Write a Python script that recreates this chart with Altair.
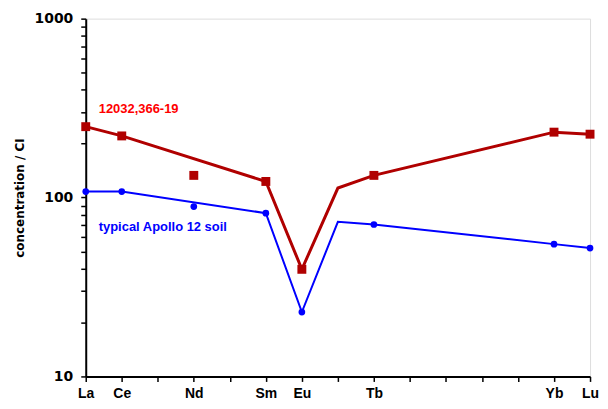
import altair as alt
import pandas as pd

# Atomic numbers of rare earth elements
elements = ["La", "Ce", "Pr", "Nd", "Pm", "Sm", "Eu", "Gd", "Tb", "Dy", "Ho", "Er", "Tm", "Yb", "Lu"]
atomic = list(range(57, 72))
labelled = ["La", "Ce", "Nd", "Sm", "Eu", "Tb", "Yb", "Lu"]

# Line vertices (connected through Gd, skipping Nd)
line_elems = ["La", "Ce", "Sm", "Eu", "Gd", "Tb", "Yb", "Lu"]
red_line = [249, 221, 123, 39.7, 113, 133, 232, 226]
blue_line = [108, 108, 81.8, 22.9, 73.2, 70.7, 54.9, 52.2]

# Measured markers
mark_elems = ["La", "Ce", "Nd", "Sm", "Eu", "Tb", "Yb", "Lu"]
red_marks = [249, 221, 133, 123, 39.7, 133, 232, 226]
blue_marks = [108, 108, 89, 81.8, 22.9, 70.7, 54.9, 52.2]

Z = dict(zip(elements, atomic))

line_df = pd.concat([
    pd.DataFrame({"z": [Z[e] for e in line_elems], "v": red_line, "s": "red", "o": range(len(line_elems))}),
    pd.DataFrame({"z": [Z[e] for e in line_elems], "v": blue_line, "s": "blue", "o": range(len(line_elems))}),
])
red_df = pd.DataFrame({"z": [Z[e] for e in mark_elems], "v": red_marks})
blue_df = pd.DataFrame({"z": [Z[e] for e in mark_elems], "v": blue_marks})

label_map = "{" + ",".join(f"'{Z[e]}':'{e}'" for e in labelled) + "}"
label_expr = f"({label_map})[''+datum.value] || ''"

xscale = alt.Scale(domain=[57, 71], nice=False, zero=False)
yscale = alt.Scale(type="log", domain=[10, 1000], nice=False)
yticks = [10, 20, 30, 40, 50, 60, 70, 80, 90, 100, 200, 300, 400, 500, 600, 700, 800, 900, 1000]

xaxis = alt.Axis(values=atomic, labelExpr=label_expr, grid=False, title=None,
                 tickSize=5, tickColor="black", domainColor="black", domainWidth=2, tickWidth=1.5,
                 labelFont="Liberation Sans", labelFontWeight="bold", labelFontSize=14,
                 labelColor="black", labelPadding=5, labelFlush=False)
yaxis = alt.Axis(values=yticks,
                 labelExpr="(datum.value==10||datum.value==100||datum.value==1000) ? datum.value : ''",
                 grid=False, title="concentration / CI", tickSize=5, tickColor="black",
                 domainColor="black", domainWidth=2, tickWidth=1.5,
                 labelFont="DejaVu Sans", labelFontWeight="bold", labelFontSize=14, labelColor="black",
                 labelPadding=8, labelFlush=False,
                 titleFont="DejaVu Sans", titleFontWeight="bold", titleFontSize=12, titleColor="black",
                 titleX=-66, titleY=179.5, titleAngle=-90, titleBaseline="middle", titleAlign="center")

x = alt.X("z:Q", scale=xscale, axis=xaxis)
y = alt.Y("v:Q", scale=yscale, axis=yaxis)

lines = alt.Chart(line_df).mark_line(clip=True).encode(
    x=x, y=y, detail="s:N", order="o:Q",
    color=alt.Color("s:N", scale=alt.Scale(domain=["red", "blue"], range=["#b00000", "#0000ff"]), legend=None),
    strokeWidth=alt.StrokeWidth("s:N", scale=alt.Scale(domain=["red", "blue"], range=[3, 2]), legend=None),
)
red_pts = alt.Chart(red_df).mark_square(size=80, color="#b00000", opacity=1).encode(x=x, y=y)
blue_pts = alt.Chart(blue_df).mark_circle(size=45, color="#0000ff", opacity=1).encode(x=x, y=y)

red_txt = alt.Chart(pd.DataFrame({"z": [57.36], "v": [313], "t": ["12032,366-19"]})).mark_text(
    align="left", baseline="middle", font="Liberation Sans", fontWeight="bold", fontSize=13, color="#ff0000"
).encode(x=x, y=y, text="t:N")
blue_txt = alt.Chart(pd.DataFrame({"z": [57.36], "v": [68], "t": ["typical Apollo 12 soil"]})).mark_text(
    align="left", baseline="middle", font="Liberation Sans", fontWeight="bold", fontSize=13, color="#0000ff"
).encode(x=x, y=y, text="t:N")

chart = alt.layer(lines, red_pts, blue_pts, red_txt, blue_txt).properties(
    width=506, height=359,
    autosize=alt.AutoSizeParams(type="none"),
    padding={"left": 78, "top": 10, "right": 10, "bottom": 32},
).configure_view(stroke=None).configure(background="white")

chart.save("out.html", embed_options={"renderer": "svg", "actions": False})
